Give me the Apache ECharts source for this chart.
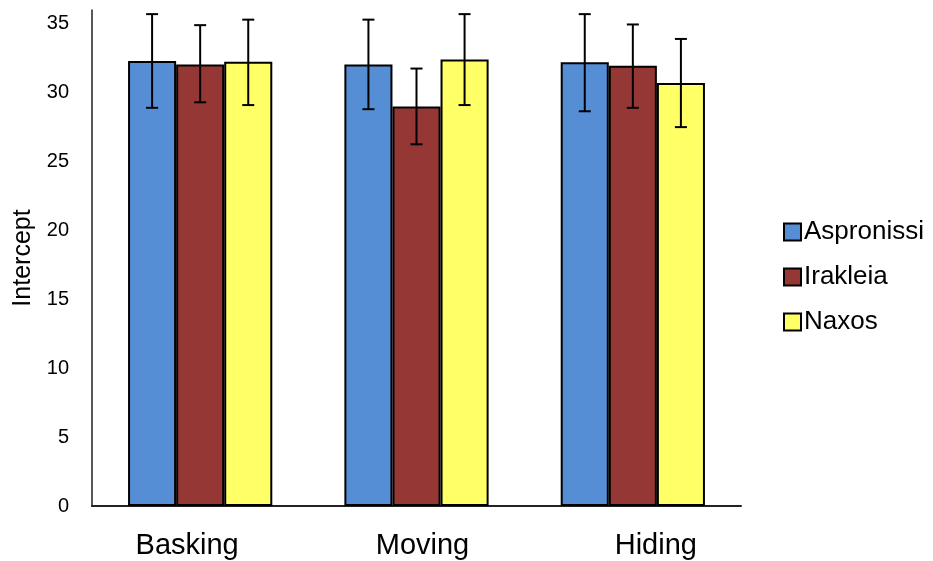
<!DOCTYPE html>
<html>
<head>
<meta charset="utf-8">
<script src="https://cdn.jsdelivr.net/npm/echarts@6/dist/echarts.min.js"></script>
<style>
html,body{margin:0;padding:0;background:#fff;}
#chart{width:933px;height:561px;}
</style>
</head>
<body>
<div id="chart"></div>
<script>
const categories = ['Basking', 'Moving', 'Hiding'];
const seriesNames = ['Aspronissi', 'Irakleia', 'Naxos'];
const aspronissi = [32.3, 32.05, 32.2];
const irakleia = [32.05, 29.0, 31.95];
const naxos = [32.25, 32.4, 30.7];
const aspronissiErrLow = [28.9, 28.8, 28.65];
const aspronissiErrHigh = [35.7, 35.3, 35.7];
const irakleiaErrLow = [29.3, 26.25, 28.9];
const irakleiaErrHigh = [34.9, 31.75, 34.95];
const naxosErrLow = [29.1, 29.1, 27.5];
const naxosErrHigh = [35.3, 35.7, 33.9];
const yTicks = [0, 5, 10, 15, 20, 25, 30, 35];

const colors = ['#558ED5', '#953735', '#FFFF66'];
const values = [aspronissi, irakleia, naxos];
const lows = [aspronissiErrLow, irakleiaErrLow, naxosErrLow];
const highs = [aspronissiErrHigh, irakleiaErrHigh, naxosErrHigh];
const FONT = '"Liberation Sans", Arial, sans-serif';

const barSeries = seriesNames.map((name, i) => ({
  name: name,
  type: 'bar',
  data: values[i],
  barGap: '0%',
  barCategoryGap: '33.33%',
  itemStyle: { color: colors[i], borderColor: '#000', borderWidth: 2 },
  z: 2
}));

const errSeries = seriesNames.map((name, k) => ({
  type: 'custom',
  name: name + ' err',
  z: 5,
  data: categories.map((c, j) => [j, lows[k][j], highs[k][j]]),
  encode: { x: 0, y: [1, 2] },
  renderItem: function (params, api) {
    const x = api.value(0);
    const lo = api.coord([x, api.value(1)]);
    const hi = api.coord([x, api.value(2)]);
    const band = api.size([1, 0])[0];
    const bw = band * (2 / 3) / 3;
    const cx = lo[0] + (k - 1) * bw;
    const cap = 6;
    const st = { stroke: '#000', lineWidth: 2 };
    return {
      type: 'group',
      children: [
        { type: 'line', shape: { x1: cx, y1: lo[1], x2: cx, y2: hi[1] }, style: st },
        { type: 'line', shape: { x1: cx - cap, y1: lo[1], x2: cx + cap, y2: lo[1] }, style: st },
        { type: 'line', shape: { x1: cx - cap, y1: hi[1], x2: cx + cap, y2: hi[1] }, style: st }
      ]
    };
  }
}));

const labelKeys = { 'Basking': 'b', 'Moving': 'm', 'Hiding': 'h' };
const lblBase = { fontSize: 29, fontFamily: FONT, color: '#000' };

const chart = echarts.init(document.getElementById('chart'));
chart.setOption({
  animation: false,
  backgroundColor: '#fff',
  grid: { left: 92, right: 192, top: 10, bottom: 55, containLabel: false, outerBoundsMode: 'none' },
  legend: {
    data: seriesNames,
    orient: 'vertical',
    left: 783,
    top: 219,
    padding: 0,
    itemWidth: 17,
    itemHeight: 17,
    itemGap: 19,
    icon: 'rect',
    textStyle: { fontSize: 26, fontFamily: FONT, color: '#000', padding: [0, 0, 0, -2] }
  },
  xAxis: {
    type: 'category',
    data: categories,
    axisLine: { show: true, lineStyle: { color: '#222', width: 2 } },
    axisTick: { show: false },
    axisLabel: {
      margin: 25,
      interval: 0,
      formatter: function (v) { return '{' + labelKeys[v] + '|' + v + '}'; },
      rich: {
        b: Object.assign({ padding: [0, 26, 0, 0] }, lblBase),
        m: Object.assign({ padding: [0, 0, 0, 12] }, lblBase),
        h: Object.assign({ padding: [0, 0, 0, 46] }, lblBase)
      }
    },
    splitLine: { show: false }
  },
  yAxis: {
    type: 'value',
    min: 0,
    max: 36,
    interval: 5,
    name: 'Intercept',
    nameLocation: 'middle',
    nameRotate: 90,
    nameGap: 56,
    nameTextStyle: { fontSize: 25, fontFamily: FONT, color: '#000' },
    axisLine: { show: true, lineStyle: { color: '#222', width: 1.5 } },
    axisTick: { show: false },
    splitLine: { show: false },
    axisLabel: {
      margin: 23,
      fontSize: 20,
      fontFamily: FONT,
      color: '#000',
      showMaxLabel: false,
      formatter: function (v) { return yTicks.indexOf(v) >= 0 ? String(v) : ''; }
    }
  },
  series: barSeries.concat(errSeries)
});
</script>
</body>
</html>
